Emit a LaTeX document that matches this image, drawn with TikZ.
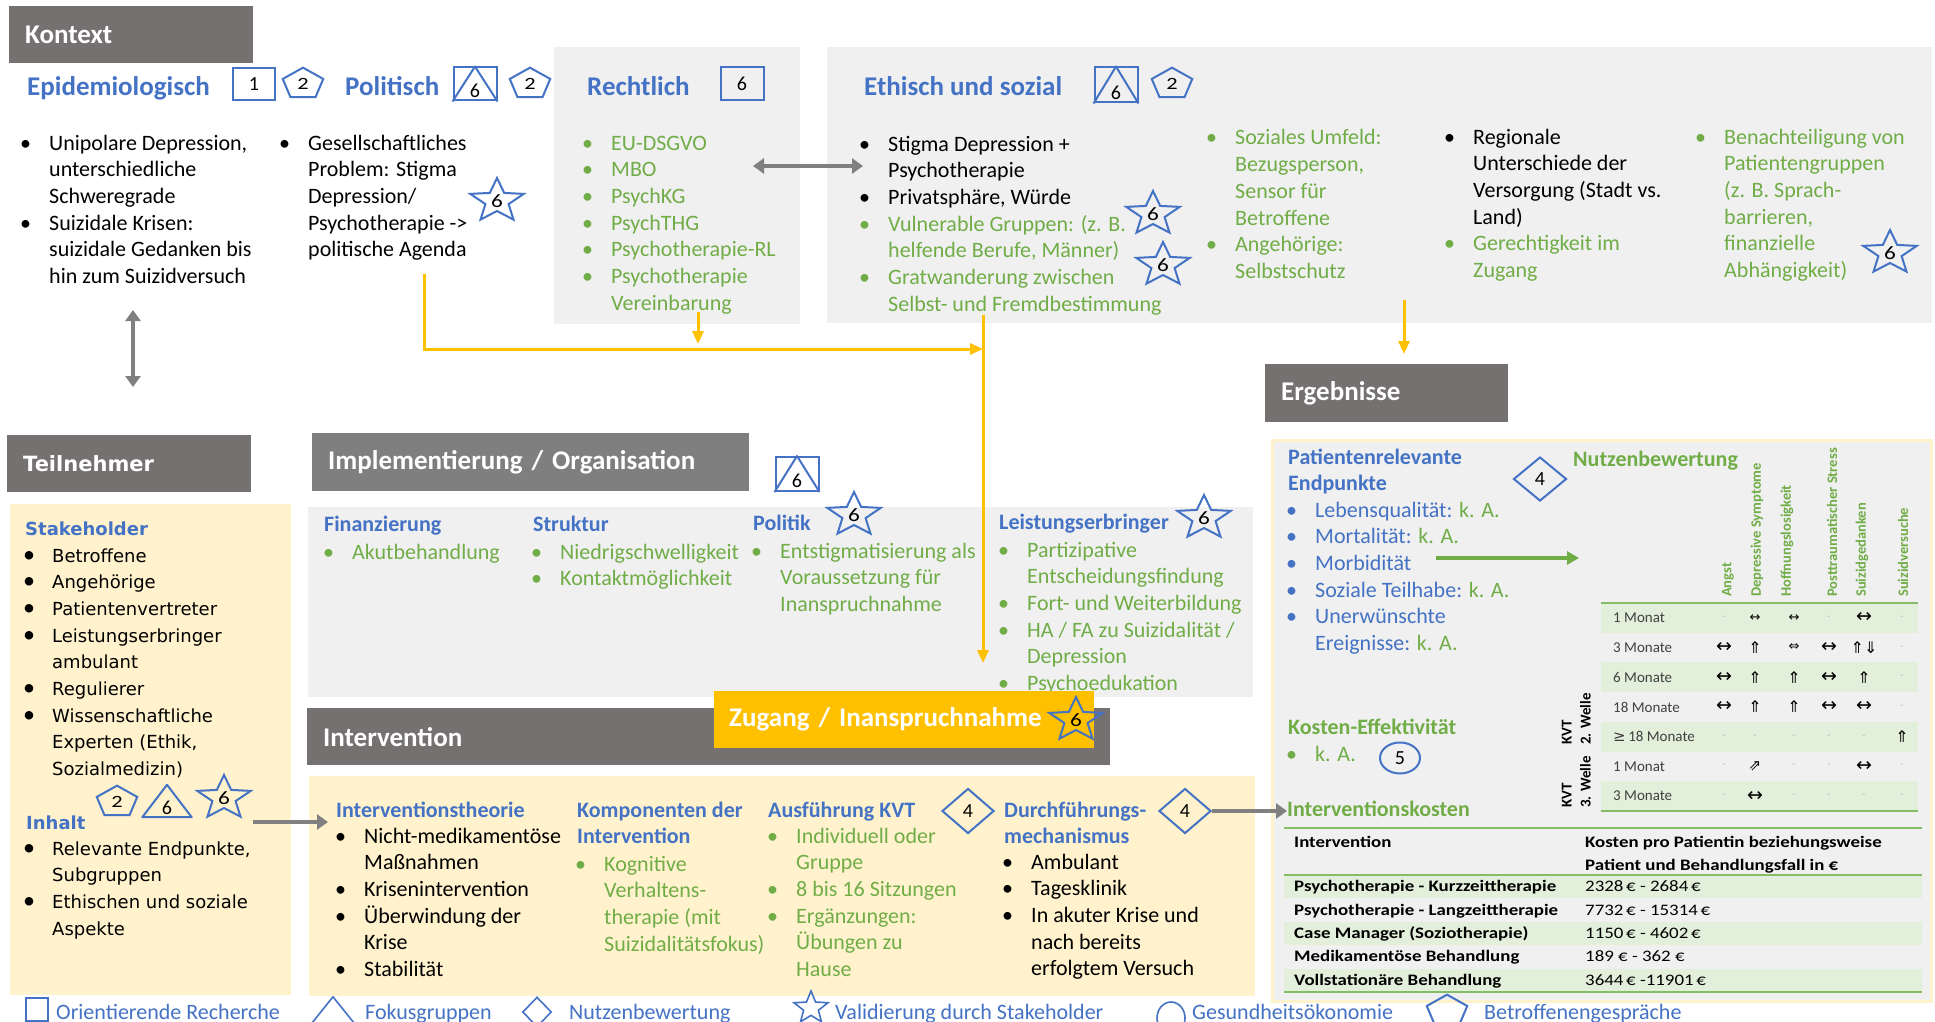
\documentclass[tikz,border=0pt]{standalone}
\usepackage{fontspec}
\setmainfont{Carlito}
\newfontfamily\verdfont{DejaVu Sans}
\newfontfamily\symfont{DejaVu Sans}
\newfontfamily\tabfont[FakeStretch=1.18]{Carlito}
\usetikzlibrary{shapes.geometric,arrows.meta}

\definecolor{kopfgrau}{HTML}{767171}
\definecolor{kopfgrau2}{HTML}{7F7F7F}
\definecolor{hellgrau}{HTML}{F0F0F0}
\definecolor{creme}{HTML}{FFF2CC}
\definecolor{gelb}{HTML}{FFC000}
\definecolor{blau}{HTML}{4472C4}
\definecolor{gruen}{HTML}{70AD47}
\definecolor{tabgruen}{HTML}{E2EFDA}
\definecolor{tablinie}{HTML}{84BD63}
\definecolor{pfeilgrau}{HTML}{808080}

% bullet lists: one row per printed line
\newcommand{\blist}[1]{\begin{tabular}[t]{@{}l@{}l@{}}#1\end{tabular}}
\newcommand{\hlist}[1]{\begin{tabular}[t]{@{}l@{}}#1\end{tabular}}
\newcommand{\bp}{\makebox[29pt][l]{\textbullet}&}
\newcommand{\vbp}{\makebox[29pt][l]{\rmfamily\fontsize{24}{24}\selectfont\textbullet}&}
\newcommand{\gp}{\makebox[29pt][l]{\color{gruen}\textbullet}&\color{gruen}}
\newcommand{\gz}{&\color{gruen}}
% table entries
\newcommand{\eNA}{\textcolor{black!30}{-}}
\newcommand{\eGL}{{\symfont\fontsize{19}{19}\selectfont ↔}}
\newcommand{\eGLs}{{\symfont\fontsize{13}{13}\selectfont ↔}}
\newcommand{\eGD}{{\symfont\fontsize{13}{13}\selectfont ⇔}}
\newcommand{\eUP}{{\symfont\fontsize{16}{16}\selectfont ⇑}}
\newcommand{\eUD}{{\symfont\fontsize{16}{16}\selectfont ⇑⇓}}
\newcommand{\eNE}{{\symfont\fontsize{15}{15}\selectfont ⇗}}

\tikzset{
  kopf/.style={rectangle, fill=kopfgrau, text=white, anchor=north west, inner xsep=16pt,
    inner ysep=0pt, align=left, font=\bfseries\fontsize{27}{30}\selectfont},
  zugang/.style={kopf, fill=gelb, inner xsep=15pt},
  feld/.style={rectangle, fill=hellgrau, anchor=north west, inner sep=0pt},
  cremefeld/.style={feld, fill=creme},
  titel/.style={text=blau, anchor=base west, inner sep=0pt, font=\bfseries\fontsize{27}{30}\selectfont},
  utitel/.style={text=blau, anchor=base west, inner sep=0pt, font=\bfseries\fontsize{22}{26.7}\selectfont},
  vtitel/.style={text=blau, anchor=base west, inner sep=0pt, font=\verdfont\bfseries\fontsize{18}{22}\selectfont},
  liste/.style={anchor=base west, inner sep=0pt, font=\fontsize{22}{26.7}\selectfont},
  gliste/.style={liste, text=gruen},
  vliste/.style={anchor=base west, inner sep=0pt, font=\verdfont\fontsize{18}{26.7}\selectfont},
  legende/.style={anchor=base west, inner sep=0pt, text=blau, font=\fontsize{22}{26}\selectfont},
  kasten/.style={rectangle, draw=blau, line width=2pt, inner sep=0pt, font=\fontsize{20}{20}\selectfont},
  rahmen/.style={rectangle, inner sep=0pt},
  raute/.style={diamond, draw=blau, line width=2pt, inner sep=0pt, minimum width=52pt,
    minimum height=45pt, font=\fontsize{20}{20}\selectfont},
  dlinie/.style={draw=blau, line width=2pt, line join=round},
  zahl/.style={inner sep=0pt, font=\fontsize{20}{20}\selectfont},
  garrow/.style={draw=pfeilgrau, line width=4.5pt, >={Triangle[width=15pt,length=11pt]}},
  yarrow/.style={draw=gelb, line width=3pt, >={Triangle[width=11pt,length=13pt]}},
  grarrow/.style={draw=gruen, line width=4pt, >={Triangle[width=13pt,length=12pt]}},
  kopfrot/.style={rotate=90, anchor=west, inner sep=0pt, text=gruen, font=\bfseries\fontsize{14.5}{15}\selectfont},
  zeile/.style={anchor=west, inner sep=0pt, text=black!75, font=\fontsize{15}{15}\selectfont},
  wert/.style={inner sep=0pt},
  kvt/.style={rotate=90, anchor=north west, inner sep=0pt, font=\bfseries\fontsize{15}{19}\selectfont},
  kostkopf/.style={anchor=base west, inner sep=0pt, font=\tabfont\bfseries\fontsize{16}{23.4}\selectfont},
  kostwert/.style={anchor=base west, inner sep=0pt, font=\tabfont\fontsize{16}{23.4}\selectfont},
  stern/.pic={\node[star, star points=5, star point ratio=2.3, draw=blau, line width=2pt,
    inner sep=0pt, minimum size=46pt, xscale=1.22, transform shape,
    font=\fontsize{19}{19}\selectfont] (-s) {#1};},
  kleinstern/.pic={\node[star, star points=5, star point ratio=2.3, draw=blau, line width=1.6pt,
    inner sep=0pt, minimum size=34pt, xscale=1.05, transform shape] (-s) {};},
  fuenfeck/.pic={\node[regular polygon, regular polygon sides=5, draw=blau, line width=2pt,
    inner sep=0pt, minimum size=38pt, xscale=1.12, yscale=0.86, transform shape,
    font=\fontsize{20}{20}\selectfont] (-s) {#1};}
}

\begin{document}
\begin{tikzpicture}[x=1pt,y=-1pt]
\useasboundingbox (0,0) rectangle (1935,1022);
\fill[white] (0,0) rectangle (1935,1022);

% Kontext
\node[kopf, text width=212pt, minimum height=57pt] (kontext) at (9,6) {Kontext};
\node[feld, minimum width=246pt, minimum height=277pt] (rechtF) at (554,47) {};
\node[feld, minimum width=1105pt, minimum height=276pt] (ethF) at (827,47) {};

\node[titel] (epi) at (27,96) {Epidemiologisch};
\node[kasten, minimum width=42pt, minimum height=32pt] (epiQ) at (254,84) {1};
\pic (epiP) at (303,84) {fuenfeck=2};
\node[liste] (epiL) at (20,150) {\blist{\bp Unipolare Depression,\\ & unterschiedliche\\ & Schweregrade\\
  \bp Suizidale Krisen:\\ & suizidale Gedanken bis\\ & hin zum Suizidversuch}};

\node[titel] (pol) at (345,96) {Politisch};
\node[kasten, minimum width=43pt, minimum height=33pt] (polD) at (475,84) {};
\draw[dlinie] (polD.south west) -- (polD.north) -- (polD.south east);
\node[zahl] (polDz) at (475,91) {6};
\pic (polP) at (530,84) {fuenfeck=2};
\node[liste] (polL) at (279,150) {\blist{\bp Gesellschaftliches\\ & Problem: Stigma\\ & Depression/\\
  & Psychotherapie ->\\ & politische Agenda}};
\pic (polS) at (497,201) {stern=6};

\node[titel] (recht) at (587,96) {Rechtlich};
\node[kasten, minimum width=43pt, minimum height=33pt] (rechtQ) at (742,84) {6};
\node[gliste] (rechtL) at (582,150) {\blist{\bp EU-DSGVO\\ \bp MBO\\ \bp PsychKG\\ \bp PsychTHG\\
  \bp Psychotherapie-RL\\ \bp Psychotherapie\\ & Vereinbarung}};

\node[titel] (eth) at (864,96) {Ethisch und sozial};
\node[kasten, minimum width=43pt, minimum height=35pt] (ethD) at (1116,85) {};
\draw[dlinie] (ethD.south west) -- (ethD.north) -- (ethD.south east);
\node[zahl] (ethDz) at (1116,93) {6};
\pic (ethP) at (1172,84) {fuenfeck=2};
\node[liste] (ethL1) at (859,151) {\blist{\bp Stigma Depression +\\ & Psychotherapie\\ \bp Privatsphäre, Würde\\
  \gp Vulnerable Gruppen: (z. B.\\ \gz helfende Berufe, Männer)\\
  \gp Gratwanderung zwischen\\ \gz Selbst- und Fremdbestimmung}};
\pic (ethS1) at (1153,214) {stern=6};
\pic (ethS2) at (1163,265) {stern=6};
\node[gliste] (ethL2) at (1206,145) {\blist{\bp Soziales Umfeld:\\ & Bezugsperson,\\ & Sensor für\\ & Betroffene\\
  \bp Angehörige:\\ & Selbstschutz}};
\node[liste] (ethL3) at (1444,144) {\blist{\bp Regionale\\ & Unterschiede der\\ & Versorgung (Stadt vs.\\ & Land)\\
  \gp Gerechtigkeit im\\ \gz Zugang}};
\node[gliste] (ethL4) at (1695,144) {\blist{\bp Benachteiligung von\\ & Patientengruppen\\ & (z. B. Sprach-\\
  & barrieren,\\ & finanzielle\\ & Abhängigkeit)}};
\pic (ethS4) at (1890,253) {stern=6};

% Teilnehmer
\node[kopf, font=\verdfont\bfseries\fontsize{21}{24}\selectfont, text width=212pt, minimum height=57pt] (teilnehmer) at (7,435) {Teilnehmer};
\node[cremefeld, minimum width=281pt, minimum height=491pt] (teilF) at (10,504) {};
\node[vtitel] (stake) at (25,535) {Stakeholder};
\node[vliste] (stakeL) at (23,562) {\blist{\vbp Betroffene\\ \vbp Angehörige\\ \vbp Patientenvertreter\\
  \vbp Leistungserbringer\\ & ambulant\\ \vbp Regulierer\\ \vbp Wissenschaftliche\\ & Experten (Ethik,\\ & Sozialmedizin)}};
\node[vtitel] (inhalt) at (26,829) {Inhalt};
\node[vliste] (inhaltL) at (23,855) {\blist{\vbp Relevante Endpunkte,\\ & Subgruppen\\ \vbp Ethischen und soziale\\ & Aspekte}};
\pic (teilP) at (117,802) {fuenfeck=2};
\node[rahmen, minimum width=49pt, minimum height=32pt] (teilD) at (167,801) {};
\draw[dlinie] (teilD.south west) -- (teilD.north) -- (teilD.south east) -- cycle;
\node[zahl] (teilDz) at (167,808) {6};
\pic (teilS) at (224,798) {stern=6};

% Implementierung / Organisation
\node[kopf, fill=kopfgrau2, text width=405pt, minimum height=58pt] (impl) at (312,433) {Implementierung / Organisation};
\node[kasten, minimum width=43pt, minimum height=34pt] (implD) at (797,474) {};
\draw[dlinie] (implD.south west) -- (implD.north) -- (implD.south east);
\node[zahl] (implDz) at (797,481) {6};
\node[feld, minimum width=945pt, minimum height=190pt] (implF) at (308,507) {};
\node[utitel] (fin) at (324,531) {Finanzierung};
\node[gliste] (finL) at (323,559) {\blist{\bp Akutbehandlung}};
\node[utitel] (struk) at (533,531) {Struktur};
\node[gliste] (strukL) at (531,559) {\blist{\bp Niedrigschwelligkeit\\ \bp Kontaktmöglichkeit}};
\node[utitel] (politik) at (753,530) {Politik};
\pic (politikS) at (854,515) {stern=6};
\node[gliste] (politikL) at (751,558) {\blist{\bp Entstigmatisierung als\\ & Voraussetzung für\\ & Inanspruchnahme}};
\node[utitel] (leist) at (999,529) {Leistungserbringer};
\pic (leistS) at (1204,518) {stern=6};
\node[gliste] (leistL) at (998,557) {\blist{\bp Partizipative\\ & Entscheidungsfindung\\ \bp Fort- und Weiterbildung\\
  \bp HA / FA zu Suizidalität /\\ & Depression\\ \bp Psychoedukation}};

% Intervention
\node[kopf, text width=771pt, minimum height=57pt] (interv) at (307,708) {Intervention};
\node[zugang, text width=350pt, minimum height=57pt] (zug) at (714,691) {Zugang / Inanspruchnahme};
\pic (zugS) at (1076,720) {stern=6};
\node[cremefeld, minimum width=946pt, minimum height=220pt] (intF) at (309,776) {};
\node[utitel] (theo) at (336,817) {Interventionstheorie};
\node[liste] (theoL) at (335,843) {\blist{\bp Nicht-medikamentöse\\ & Maßnahmen\\ \bp Krisenintervention\\
  \bp Überwindung der\\ & Krise\\ \bp Stabilität}};
\node[utitel] (komp) at (577,817) {\hlist{Komponenten der\\Intervention}};
\node[gliste] (kompL) at (575,871) {\blist{\bp Kognitive\\ & Verhaltens-\\ & therapie (mit\\ & Suizidalitätsfokus)}};
\node[utitel] (ausf) at (768,817) {Ausführung KVT};
\node[raute] (ausfR) at (968,811) {4};
\node[gliste] (ausfL) at (767,843) {\blist{\bp Individuell oder\\ & Gruppe\\ \bp 8 bis 16 Sitzungen\\
  \bp Ergänzungen:\\ & Übungen zu\\ & Hause}};
\node[utitel] (durch) at (1004,817) {\hlist{Durchführungs-\\mechanismus}};
\node[raute] (durchR) at (1185,811) {4};
\node[liste] (durchL) at (1002,869) {\blist{\bp Ambulant\\ \bp Tagesklinik\\ \bp In akuter Krise und\\
  & nach bereits\\ & erfolgtem Versuch}};

% Ergebnisse
\node[kopf, text width=211pt, minimum height=58pt] (erg) at (1265,364) {Ergebnisse};
\node[feld, draw=creme, line width=3pt, minimum width=659pt, minimum height=561pt] (ergF) at (1271,439) {};
\node[utitel] (endp) at (1288,464) {\hlist{Patientenrelevante\\Endpunkte}};
\node[raute, minimum width=53pt, minimum height=44pt] (endpR) at (1540,479) {4};
\node[liste, text=blau] (endpL) at (1286,517) {\blist{\bp Lebensqualität: \textcolor{gruen}{k. A.}\\
  \bp Mortalität: \textcolor{gruen}{k. A.}\\ \bp Morbidität\\ \bp Soziale Teilhabe: \textcolor{gruen}{k. A.}\\
  \bp Unerwünschte\\ & Ereignisse: \textcolor{gruen}{k. A.}}};
\node[utitel, text=gruen] (nutzen) at (1573,466) {Nutzenbewertung};
\node[utitel, text=gruen] (keff) at (1288,734) {Kosten-Effektivität};
\node[gliste] (keffL) at (1286,761) {\blist{\bp k. A.}};
\node[ellipse, draw=blau, line width=2pt, minimum width=40pt, minimum height=31pt, inner sep=0pt,
  font=\fontsize{20}{20}\selectfont] (keffK) at (1400,758) {5};
\node[utitel, text=gruen] (ikost) at (1287,816) {Interventionskosten};

% Nutzenbewertung table
\foreach \r in {1,3,5,7}
  \fill[tabgruen] (1601,{603+(\r-1)*29.7}) rectangle ++(317,29.7);
\draw[tablinie, line width=2pt] (1601,603) -- (1918,603) (1601,811) -- (1918,811);
\foreach \x/\t in {1728/Angst,1757/Depressive Symptome,1787/Hoffnungslosigkeit,
    1832/Posttraumatischer Stress,1862/Suizidgedanken,1903/Suizidversuche}
  \node[kopfrot] (k\x) at (\x,597) {\t};
\foreach \lab/\vals [count=\r] in {%
    {1 Monat}/{\eNA,\eGLs,\eGLs,\eNA,\eGL,\eNA},
    {3 Monate}/{\eGL,\eUP,\eGD,\eGL,\eUD,\eNA},
    {6 Monate}/{\eGL,\eUP,\eUP,\eGL,\eUP,\eNA},
    {18 Monate}/{\eGL,\eUP,\eUP,\eGL,\eGL,\eNA},
    {{\symfont ≥}\,18 Monate}/{\eNA,\eNA,\eNA,\eNA,\eNA,\eUP},
    {1 Monat}/{\eNA,\eNE,\eNA,\eNA,\eGL,\eNA},
    {3 Monate}/{\eNA,\eGL,\eNA,\eNA,\eNA,\eNA}}
{
  \pgfmathsetmacro\ry{603+(\r-0.5)*29.7}
  \node[zeile] (z\r) at (1613,\ry) {\lab};
  \foreach \v [count=\c] in \vals {
    \pgfmathsetmacro\cx{{1724,1755,1794,1829,1864,1902}[\c-1]}
    \node[wert] (w\r-\c) at (\cx,\ry) {\v};
  }
}
\node[kvt] (kvt2) at (1558,745) {\hlist{KVT\\2. Welle}};
\node[kvt] (kvt3) at (1558,808) {\hlist{KVT\\3. Welle}};

% Interventionskosten table
\foreach \r in {1,3,5}
  \fill[tabgruen] (1284,{875+(\r-1)*23.4}) rectangle ++(638,23.4);
\draw[tablinie, line width=2pt] (1284,828) -- (1922,828) (1284,875) -- (1922,875) (1284,992) -- (1922,992);
\node[kostkopf] (kh1) at (1294,847) {Intervention};
\node[kostkopf] (kh2) at (1585,847) {\hlist{Kosten pro Patientin beziehungsweise\\Patient und Behandlungsfall in €}};
\foreach \n/\k [count=\r] in {Psychotherapie - Kurzzeittherapie/2328\,€ - 2684\,€,
    Psychotherapie - Langzeittherapie/7732\,€ - 15314\,€,
    Case Manager (Soziotherapie)/1150\,€ - 4602\,€,
    Medikamentöse Behandlung/189 € - 362 €,
    Vollstationäre Behandlung/3644\,€ -11901\,€}
{
  \pgfmathsetmacro\ky{875+(\r-0.5)*23.4+5}
  \node[kostkopf] (kn\r) at (1294,\ky) {\n};
  \node[kostwert] (kw\r) at (1585,\ky) {\k};
}

% connectors
\coordinate (rA) at (753,166);
\coordinate (eA) at (863,166);
\draw[garrow,<->] (rA) -- (eA);
\coordinate (kA) at (133,310);
\coordinate (tA) at (133,387);
\draw[garrow,<->] (kA) -- (tA);
\coordinate (pO) at (424,274);
\coordinate (mitte) at (983,349);
\draw[yarrow,->] (pO) |- (mitte);
\coordinate (rO) at (698,312);
\coordinate (rU) at (698,344);
\draw[yarrow,->] (rO) -- (rU);
\coordinate (eO) at (983,315);
\coordinate (zO) at (983,663);
\draw[yarrow,->] (eO) -- (zO);
\coordinate (sO) at (1404,300);
\coordinate (ergO) at (1404,354);
\draw[yarrow,->] (sO) -- (ergO);
\coordinate (tP) at (253,822);
\coordinate (iP) at (328,822);
\draw[garrow,->] (tP) -- (iP);
\coordinate (kP) at (1287,811);
\draw[garrow,->] (durchR.east) -- (kP);
\coordinate (morbA) at (1436,558);
\coordinate (tabA) at (1579,558);
\draw[grarrow,->] (morbA) -- (tabA);

% legend
\node[kasten, minimum width=22pt, minimum height=23pt] (lgQ) at (37,1009) {};
\node[legende] (lgQt) at (56,1019) {Orientierende Recherche};
\node[rahmen, minimum width=42pt, minimum height=26pt] (lgD) at (333,1010) {};
\draw[dlinie, line width=1.6pt] (lgD.south west) -- (lgD.north) -- (lgD.south east) -- cycle;
\node[legende] (lgDt) at (365,1019) {Fokusgruppen};
\node[raute, line width=1.6pt, minimum width=29pt, minimum height=30pt] (lgR) at (537,1012) {};
\node[legende] (lgRt) at (569,1019) {Nutzenbewertung};
\pic (lgS) at (811,1008) {kleinstern};
\node[legende] (lgSt) at (835,1019) {Validierung durch Stakeholder};
\node[ellipse, draw=blau, line width=1.6pt, minimum width=28pt, minimum height=32pt, inner sep=0pt] (lgK) at (1171,1018) {};
\node[legende] (lgKt) at (1192,1019) {Gesundheitsökonomie};
\pic (lgP) at (1447,1011) {fuenfeck=};
\node[legende] (lgPt) at (1484,1019) {Betroffenengespräche};
\end{tikzpicture}
\end{document}
